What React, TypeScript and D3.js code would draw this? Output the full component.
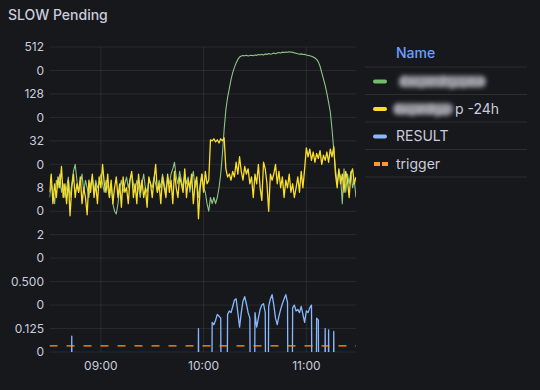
import React from 'react';
import * as d3 from 'd3';

const W = 540;
const H = 390;

const startTime = new Date(2024, 0, 1, 8, 30);
const endTime = new Date(2024, 0, 1, 11, 29);

const yTickValues = [512, 256, 128, 64, 32, 16, 8, 4, 2, 1, 0.5, 0.25, 0.125, 0.0625];
const yTickLabels = ['512', '0', '128', '0', '32', '0', '8', '0', '2', '0', '0.500', '0', '0.125', '0'];

const xTickTimes = [new Date(2024, 0, 1, 9, 0), new Date(2024, 0, 1, 10, 0), new Date(2024, 0, 1, 11, 0)];
const xTickLabels = ['09:00', '10:00', '11:00'];

// one value per minute from 08:30
const greenValues = [
  6, 9, 7, 5, 10, 8, 12, 7, 9, 6,
  8, 11, 6, 9, 13, 16, 10, 7, 9, 12,
  7, 10, 8, 6, 9, 11, 7, 10, 8, 9,
  12, 9, 7, 10, 8, 6, 9, 5, 4, 3.7,
  5, 8, 10, 7, 9, 11, 8, 10, 12, 9,
  7, 10, 8, 6, 9, 12, 8, 7, 10, 9,
  8, 11, 9, 7, 10, 8, 12, 9, 7, 11,
  9, 12, 14, 17, 11, 9, 13, 10, 8, 12,
  9, 11, 7, 10, 13, 8, 10, 6, 9, 12,
  8, 7, 5, 4, 6, 5, 6, 5, 6, 8,
  12, 22, 45, 80, 115, 150, 195, 240, 280, 320,
  355, 380, 392, 398, 395, 400, 392, 398, 402, 396,
  405, 400, 410, 404, 412, 405, 418, 410, 422, 414,
  420, 430, 418, 428, 436, 430, 440, 434, 442, 438,
  446, 438, 440, 430, 425, 420, 414, 418, 410, 412,
  405, 400, 396, 390, 380, 370, 355, 330, 290, 240,
  200, 165, 130, 100, 75, 45, 25, 14, 9, 13,
  11, 5, 14, 7, 12, 9, 13, 8, 10, 6,
];

const yellowValues = [
  7, 12, 5, 9, 6, 11, 8, 15, 6, 9,
  5, 10, 3.5, 8, 12, 6, 9, 7, 11, 5,
  8, 6, 3.6, 10, 7, 12, 6, 9, 5, 11,
  8, 16, 9, 7, 12, 6, 10, 5, 8, 11,
  6, 9, 4.5, 11, 7, 8, 5, 10, 13, 6,
  9, 5, 12, 7, 10, 6, 8, 4.5, 11, 9,
  6, 10, 16, 7, 9, 5, 11, 8, 6, 12,
  7, 10, 5, 13, 8, 6, 11, 9, 7, 14,
  6, 10, 8, 12, 5, 9, 11, 3.2, 8, 12,
  7, 13, 9, 10, 33, 32, 34, 31, 33, 30,
  34, 32, 35, 14, 11, 12, 10, 13, 11, 17,
  12, 20, 13, 10, 15, 12, 14, 9, 11, 6,
  12, 9, 16, 8, 5.5, 17, 14, 9, 4, 12,
  10, 12, 16, 9, 13, 8, 11, 6, 10, 8,
  12, 7, 9, 6, 8, 11, 7, 13, 8, 14,
  26, 20, 25, 18, 23, 17, 22, 19, 24, 16,
  21, 18, 23, 17, 25, 20, 27, 12, 8, 14,
  9, 12, 7, 13, 10, 6, 12, 14, 9, 11,
];

const resultValues = [
  0, 0, 0, 0, 0, 0, 0, 0, 0, 0,
  0, 0, 0, 0.1, 0, 0, 0, 0, 0, 0,
  0, 0, 0, 0, 0, 0, 0, 0, 0, 0,
  0, 0, 0, 0, 0, 0, 0, 0, 0, 0,
  0, 0, 0, 0, 0, 0, 0, 0, 0, 0,
  0, 0, 0, 0, 0, 0, 0, 0, 0, 0,
  0, 0, 0, 0, 0, 0, 0, 0, 0, 0,
  0, 0, 0, 0, 0, 0, 0, 0, 0, 0,
  0, 0, 0, 0, 0, 0, 0, 0.125, 0, 0,
  0, 0, 0, 0, 0, 0.15, 0.14, 0.16, 0.19, 0.18,
  0.17, 0, 0, 0, 0.19, 0.21, 0.2, 0.24, 0.29, 0.3,
  0.2, 0.13, 0.2, 0.28, 0.32, 0.26, 0.2, 0.17, 0, 0,
  0.2, 0.13, 0.17, 0.22, 0.25, 0.26, 0.2, 0, 0.24, 0.3,
  0.34, 0.25, 0.17, 0.14, 0.18, 0.22, 0.26, 0.3, 0.34, 0.27,
  0, 0, 0.23, 0.25, 0.21, 0.22, 0.2, 0.24, 0.19, 0.15,
  0.21, 0.2, 0.23, 0.25, 0, 0, 0.17, 0.16, 0, 0,
  0, 0.125, 0, 0.12, 0, 0, 0.115, 0, 0, 0,
  0, 0, 0, 0, 0, 0, 0, 0, 0, 0,
];

const triggerValue = 0.075;

const seriesColors = ['#73bf69', '#fade2a', '#8ab8ff', '#ff9830'];
const legendTitle = 'Name';
const legendHidden = ['slow_pending_queue', 'slow_pending_ap'];
const legendSuffix = 'p -24h';
const legendLabels = ['RESULT', 'trigger'];

const FONT = 'Inter, "Noto Sans", sans-serif';

export default function App() {
  const left = 49.5;
  const right = 356;
  const top = 47;
  const bottom = 352;

  const x = d3.scaleTime().domain([startTime, endTime]).range([left, right]);
  const y = d3.scaleLog().base(2).domain([0.0625, 512]).range([bottom, top]);

  const t = (i: number) => d3.timeMinute.offset(startTime, i);

  const posLine = d3
    .line<number>()
    .x((_, i) => x(t(i)))
    .y((v) => y(v));

  const resultLine = d3
    .line<number>()
    .x((_, i) => x(t(i)))
    .y((v) => (v > 0 ? y(v) : bottom + 300));

  const triggerSeries = greenValues.map(() => triggerValue);

  const legendRowY = [81.5, 109, 136.5, 164];
  const sepY = [67, 94.5, 122, 149.5, 177];

  return (
    <svg
      width={W}
      height={H}
      style={{ position: 'fixed', left: 0, top: 0, background: '#16181c' }}
      fontFamily={FONT}
    >
      <defs>
        <clipPath id="plot">
          <rect x={left} y={top - 10} width={right - left} height={bottom - top + 10} />
        </clipPath>
        <filter id="blur" x="-20%" y="-60%" width="140%" height="220%">
          <feGaussianBlur stdDeviation="2.2" />
        </filter>
      </defs>
      <rect x={0} y={0} width={W} height={H} fill="#16181c" />

      <text x={8} y={20} fill="#ccccdc" fontSize={14} fontWeight={500}>
        SLOW Pending
      </text>

      {/* grid */}
      {yTickValues.map((v, i) => (
        <g key={'y' + i}>
          <line x1={left} x2={right} y1={y(v)} y2={y(v)} stroke="rgba(204,204,220,0.1)" />
          <text
            x={44}
            y={y(v)}
            dy="0.35em"
            textAnchor="end"
            fill="#ccccdc"
            fontSize={12}
          >
            {yTickLabels[i]}
          </text>
        </g>
      ))}
      {xTickTimes.map((d, i) => (
        <g key={'x' + i}>
          <line x1={x(d)} x2={x(d)} y1={top} y2={bottom} stroke="rgba(204,204,220,0.1)" />
          <text x={x(d)} y={370} textAnchor="middle" fill="#ccccdc" fontSize={12}>
            {xTickLabels[i]}
          </text>
        </g>
      ))}

      <g clipPath="url(#plot)" fill="none" strokeLinejoin="round">
        <path d={posLine(greenValues) || ''} stroke="#8fc487" strokeWidth={1.1} />
        <path d={posLine(yellowValues) || ''} stroke={seriesColors[1]} strokeWidth={1.3} />
        <path d={resultLine(resultValues) || ''} stroke={seriesColors[2]} strokeWidth={1.3} />
        <path
          d={posLine(triggerSeries) || ''}
          stroke={seriesColors[3]}
          strokeWidth={1.3}
          strokeDasharray="8 9"
        />
      </g>

      {/* legend */}
      <text x={396} y={53} dy="0.35em" fill="#6e9fff" fontSize={14} fontWeight={500}>
        {legendTitle}
      </text>
      {sepY.map((sy, i) => (
        <line key={'s' + i} x1={365} x2={527} y1={sy} y2={sy} stroke="rgba(204,204,220,0.12)" />
      ))}
      {seriesColors.map((c, i) =>
        i === 3 ? (
          <line
            key={'sw' + i}
            x1={374}
            x2={388}
            y1={legendRowY[i]}
            y2={legendRowY[i]}
            stroke={c}
            strokeWidth={4}
            strokeDasharray="6 2"
          />
        ) : (
          <rect key={'sw' + i} x={373} y={legendRowY[i] - 2} width={14} height={4} rx={2} fill={c} />
        )
      )}
      <g filter="url(#blur)">
        <rect x={399} y={legendRowY[0] - 6} width={87} height={12} rx={5} fill="#7d7e86" />
        <text
          x={398}
          y={legendRowY[0]}
          dy="0.35em"
          fill="#b4b4bc"
          fontSize={14}
          textLength={88}
        >
          {legendHidden[0]}
        </text>
        <rect x={393} y={legendRowY[1] - 6} width={60} height={12} rx={5} fill="#7d7e86" />
        <text
          x={393}
          y={legendRowY[1]}
          dy="0.35em"
          fill="#b4b4bc"
          fontSize={14}
          textLength={60}
        >
          {legendHidden[1]}
        </text>
      </g>
      <text x={455} y={legendRowY[1]} dy="0.35em" fill="#ccccdc" fontSize={14}>
        {legendSuffix}
      </text>
      <text x={396} y={legendRowY[2]} dy="0.35em" fill="#ccccdc" fontSize={14}>
        {legendLabels[0]}
      </text>
      <text x={396} y={legendRowY[3]} dy="0.35em" fill="#ccccdc" fontSize={14}>
        {legendLabels[1]}
      </text>
    </svg>
  );
}
